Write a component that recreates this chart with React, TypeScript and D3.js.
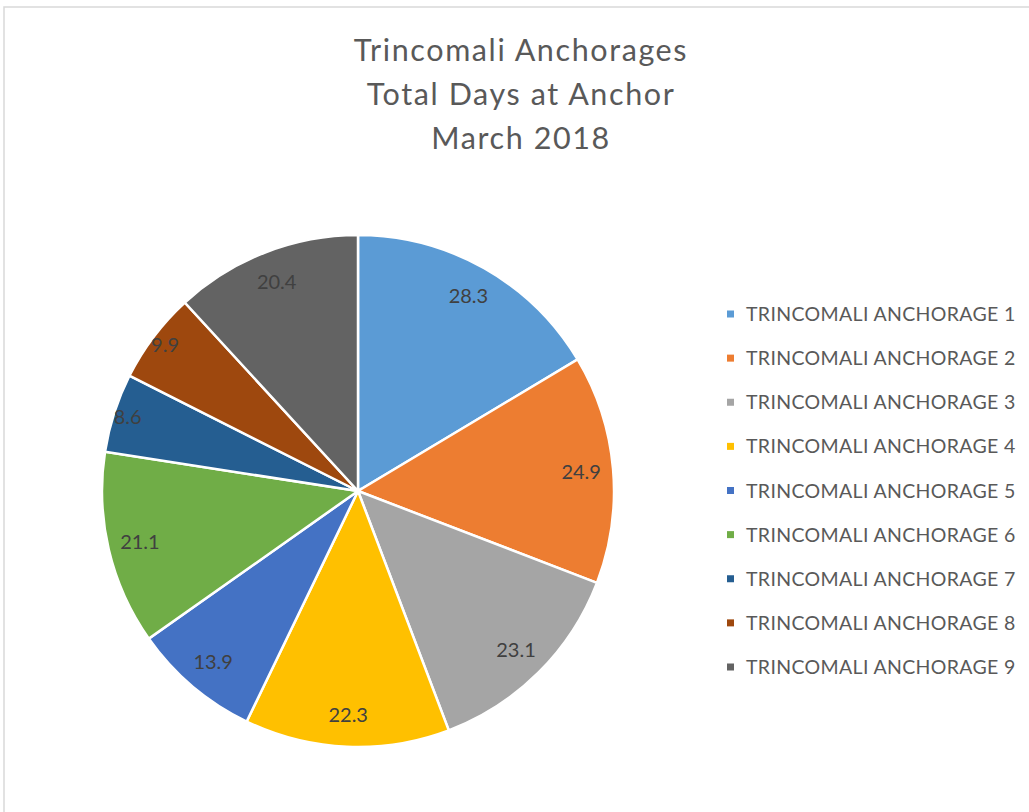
import React from "react";
import * as d3 from "d3";

const categories = [
  "TRINCOMALI ANCHORAGE 1",
  "TRINCOMALI ANCHORAGE 2",
  "TRINCOMALI ANCHORAGE 3",
  "TRINCOMALI ANCHORAGE 4",
  "TRINCOMALI ANCHORAGE 5",
  "TRINCOMALI ANCHORAGE 6",
  "TRINCOMALI ANCHORAGE 7",
  "TRINCOMALI ANCHORAGE 8",
  "TRINCOMALI ANCHORAGE 9",
];
const values = [28.3, 24.9, 23.1, 22.3, 13.9, 21.1, 8.6, 9.9, 20.4];
const colors = [
  "#5B9BD5",
  "#ED7D31",
  "#A5A5A5",
  "#FFC000",
  "#4472C4",
  "#70AD47",
  "#255E91",
  "#9E480E",
  "#636363",
];
const titleLines = ["Trincomali Anchorages", "Total Days at Anchor", "March 2018"];

const W = 1029;
const H = 812;
const cx = 358;
const cy = 491;
const R = 256;
const FONT = "Lato, 'Open Sans', sans-serif";

export default function App() {
  const data = categories.map((c, i) => ({ name: c, value: values[i], color: colors[i] }));
  const pie = d3.pie<any>().sort(null).value((d: any) => d.value);
  const arcs = pie(data);
  const arcGen = d3.arc<any>().innerRadius(0).outerRadius(R);
  const total = d3.sum(values);

  const legendY = d3
    .scalePoint<string>()
    .domain(categories)
    .range([314, 667]);

  return (
    <svg
      width={W}
      height={H}
      style={{ position: "absolute", left: 0, top: 0, background: "#fff" }}
    >
      <rect x={4} y={7} width={1100} height={900} fill="#fff" stroke="#d9d9d9" strokeWidth={1.5} />
      <g fontFamily={FONT} fill="#595959" textAnchor="middle" fontSize={30.5} letterSpacing={1.6}>
        {titleLines.map((t, i) => (
          <text key={i} x={521} y={61 + i * 44}>
            {t}
          </text>
        ))}
      </g>
      <g transform={`translate(${cx},${cy})`}>
        {arcs.map((a, i) => (
          <path key={i} d={arcGen(a) as string} fill={a.data.color} stroke="#fff" strokeWidth={2.5} />
        ))}
        {arcs.map((a, i) => {
          const mid = (a.startAngle + a.endAngle) / 2;
          const share = a.data.value / total;
          const r = R * (share < 0.06 ? 0.945 : 0.875);
          const x = r * Math.sin(mid);
          const y = -r * Math.cos(mid);
          return (
            <text
              key={"l" + i}
              x={x}
              y={y}
              dy="0.35em"
              textAnchor="middle"
              fontFamily={FONT}
              fontSize={20}
              fill="#404040"
            >
              {a.data.value}
            </text>
          );
        })}
      </g>
      <g fontFamily={FONT} fontSize={19.5} fill="#595959" letterSpacing={0.35}>
        {data.map((d, i) => (
          <g key={i} transform={`translate(727,${legendY(d.name)})`}>
            <rect x={0} y={-3.5} width={7} height={7} fill={d.color} />
            <text x={19} y={0} dy="0.36em">
              {d.name}
            </text>
          </g>
        ))}
      </g>
    </svg>
  );
}
